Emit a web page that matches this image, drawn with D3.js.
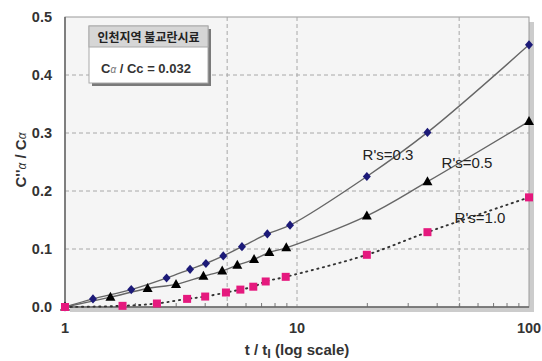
<!DOCTYPE html>
<html>
<head>
<meta charset="utf-8">
<script src="https://cdn.jsdelivr.net/npm/d3@7"></script>
<style>
  html, body { margin: 0; padding: 0; background: #ffffff; }
  svg { display: block; font-family: "Liberation Sans", Arial, sans-serif; }
</style>
</head>
<body>
<svg id="chart" width="542" height="361"></svg>
<script>
// Secondary compression ratio vs. normalised time (log scale)
const tRs03 = [1, 1.32, 1.93, 2.74, 3.46, 4.05, 4.81, 5.79, 7.45, 9.33, 20, 36.5, 100];
const rs03  = [0, 0.014, 0.030, 0.050, 0.065, 0.075, 0.088, 0.104, 0.126, 0.141, 0.225, 0.301, 0.452];
const tRs05 = [1, 1.57, 2.27, 3.01, 3.95, 4.76, 5.53, 6.53, 7.60, 8.99, 20, 36.5, 100];
const rs05  = [0, 0.017, 0.032, 0.039, 0.053, 0.062, 0.072, 0.082, 0.094, 0.102, 0.157, 0.216, 0.320];
const tRs10 = [1, 1.77, 2.49, 3.36, 4.02, 4.94, 5.70, 6.48, 7.33, 8.94, 20, 36.5, 100];
const rs10  = [0, 0.002, 0.006, 0.014, 0.018, 0.025, 0.030, 0.035, 0.044, 0.052, 0.090, 0.129, 0.189];

const seriesNames = ["R's=0.3", "R's=0.5", "R's=1.0"];
const yTicks = [0, 0.1, 0.2, 0.3, 0.4, 0.5];
const yTickLabels = ["0.0", "0.1", "0.2", "0.3", "0.4", "0.5"];
const xTicks = [1, 10, 100];
const xTickLabels = ["1", "10", "100"];
const xGrid = [5, 10, 50];
const boxTitle = "인천지역 불교란시료";
const boxValue = "0.032";

const svg = d3.select("#chart");
const pL = 65, pR = 529, pT = 17, pB = 307;

const x = d3.scaleLog().domain([1, 100]).range([pL, pR]);
const y = d3.scaleLinear().domain([0, 0.5]).range([pB, pT]);

// plot frame with drop shadow
svg.append("rect").attr("x", pL + 5).attr("y", pT + 5)
  .attr("width", pR - pL).attr("height", pB - pT).attr("fill", "#cccccc");
svg.append("rect").attr("x", pL).attr("y", pT)
  .attr("width", pR - pL).attr("height", pB - pT)
  .attr("fill", "#f5f5f5").attr("stroke", "#9a9a9a").attr("stroke-width", 1);

// dashed grid
const grid = svg.append("g").attr("stroke", "#a8a8a8").attr("stroke-width", 1)
  .attr("stroke-dasharray", "4,3");
grid.selectAll("line.h").data(yTicks.filter(v => v > 0 && v < 0.5)).join("line")
  .attr("class", "h")
  .attr("x1", pL).attr("x2", pR).attr("y1", d => y(d)).attr("y2", d => y(d));
grid.selectAll("line.v").data(xGrid).join("line")
  .attr("class", "v")
  .attr("x1", d => x(d)).attr("x2", d => x(d)).attr("y1", pT).attr("y2", pB);

// axes
const xAxis = d3.axisBottom(x).tickValues(d3.range(2, 10).concat(d3.range(20, 100, 10)))
  .tickSize(-4).tickFormat("");
const gx = svg.append("g").attr("transform", `translate(0,${pB})`).call(xAxis);
gx.select(".domain").remove();
gx.selectAll(".tick line").attr("stroke", "#777");

svg.append("line").attr("x1", pL).attr("x2", pR).attr("y1", pB).attr("y2", pB)
  .attr("stroke", "#666").attr("stroke-width", 1.5);
svg.append("line").attr("x1", pL).attr("x2", pL).attr("y1", pT).attr("y2", pB)
  .attr("stroke", "#666").attr("stroke-width", 1.5);

svg.append("g").selectAll("text").data(yTicks).join("text")
  .attr("x", 52).attr("y", d => y(d)).attr("dy", "0.36em")
  .attr("text-anchor", "end").attr("font-size", 14.5).attr("font-weight", "bold")
  .attr("fill", "#333").text((d, i) => yTickLabels[i]);

svg.append("g").selectAll("text").data(xTicks).join("text")
  .attr("x", d => x(d)).attr("y", 333)
  .attr("text-anchor", "middle").attr("font-size", 14.5).attr("font-weight", "bold")
  .attr("fill", "#333").text((d, i) => xTickLabels[i]);

// axis titles
const xt = svg.append("text").attr("x", 297).attr("y", 355).attr("text-anchor", "middle")
  .attr("font-size", 15).attr("font-weight", "bold").attr("fill", "#333");
xt.append("tspan").text("t / t");
xt.append("tspan").attr("dy", 3).attr("font-size", 13).text("l");
xt.append("tspan").attr("dy", -3).text(" (log scale)");

const yt = svg.append("text").attr("transform", "translate(26,160) rotate(-90)")
  .attr("text-anchor", "middle").attr("font-size", 15).attr("font-weight", "bold").attr("fill", "#333");
yt.append("tspan").text("C''");
yt.append("tspan").attr("font-style", "italic").attr("font-weight", "normal").attr("font-size", 12).text("α");
yt.append("tspan").text("  / C");
yt.append("tspan").attr("font-style", "italic").attr("font-weight", "normal").attr("font-size", 12).text("α");

// series
const series = [
  { t: tRs03, v: rs03, dash: null, width: 1.4, color: "#666" },
  { t: tRs05, v: rs05, dash: null, width: 1.4, color: "#666" },
  { t: tRs10, v: rs10, dash: "1.2,4.5", width: 1.9, color: "#333" }
];
const line = d3.line().x(d => x(d[0])).y(d => y(d[1])).curve(d3.curveCatmullRom.alpha(0.5));
series.forEach(s => {
  svg.append("path").datum(s.t.map((t, i) => [t, s.v[i]]))
    .attr("d", line).attr("fill", "none").attr("stroke", s.color)
    .attr("stroke-width", s.width).attr("stroke-dasharray", s.dash)
    .attr("stroke-linecap", "round");
});

// markers
svg.append("g").selectAll("path").data(tRs03.map((t, i) => [t, rs03[i]])).join("path")
  .attr("d", "M0,-4.6L4,0L0,4.6L-4,0Z")
  .attr("transform", d => `translate(${x(d[0])},${y(d[1])})`)
  .attr("fill", "#1c1a78");
svg.append("g").selectAll("path").data(tRs05.map((t, i) => [t, rs05[i]])).join("path")
  .attr("d", "M0,-5.5L5,3.5L-5,3.5Z")
  .attr("transform", d => `translate(${x(d[0])},${y(d[1])})`)
  .attr("fill", "#000");
svg.append("g").selectAll("rect").data(tRs10.map((t, i) => [t, rs10[i]])).join("rect")
  .attr("x", d => x(d[0]) - 4).attr("y", d => y(d[1]) - 4)
  .attr("width", 8).attr("height", 8).attr("fill", "#e5197e");

// series labels
const labelPos = [[388, 160], [467, 168], [480, 223]];
svg.append("g").selectAll("text").data(seriesNames).join("text")
  .attr("x", (d, i) => labelPos[i][0]).attr("y", (d, i) => labelPos[i][1])
  .attr("text-anchor", "middle").attr("font-size", 15).attr("fill", "#222").text(d => d);

// info box
const bx = 89, by = 26, bw = 119, bh = 57;
svg.append("rect").attr("x", bx + 3).attr("y", by + 3).attr("width", bw).attr("height", bh).attr("fill", "#7a7a7a");
svg.append("rect").attr("x", bx).attr("y", by).attr("width", bw).attr("height", bh)
  .attr("fill", "#ffffff").attr("stroke", "#aaa");
svg.append("rect").attr("x", bx).attr("y", by).attr("width", bw).attr("height", 21)
  .attr("fill", "#d6d6d6").attr("stroke", "#aaa");
svg.append("text").attr("x", bx + bw / 2).attr("y", by + 15.5).attr("text-anchor", "middle")
  .attr("font-family", "'Noto Sans CJK KR', sans-serif").attr("font-size", 12)
  .attr("font-weight", "bold").attr("fill", "#222").text(boxTitle);
const bv = svg.append("text").attr("x", bx + 12).attr("y", by + 47)
  .attr("font-size", 13).attr("font-weight", "bold").attr("fill", "#333");
bv.append("tspan").text("C");
bv.append("tspan").attr("font-style", "italic").attr("font-weight", "normal").attr("font-size", 10).attr("fill", "#777").text("α");
bv.append("tspan").text("   / Cc = " + boxValue);
</script>
</body>
</html>
